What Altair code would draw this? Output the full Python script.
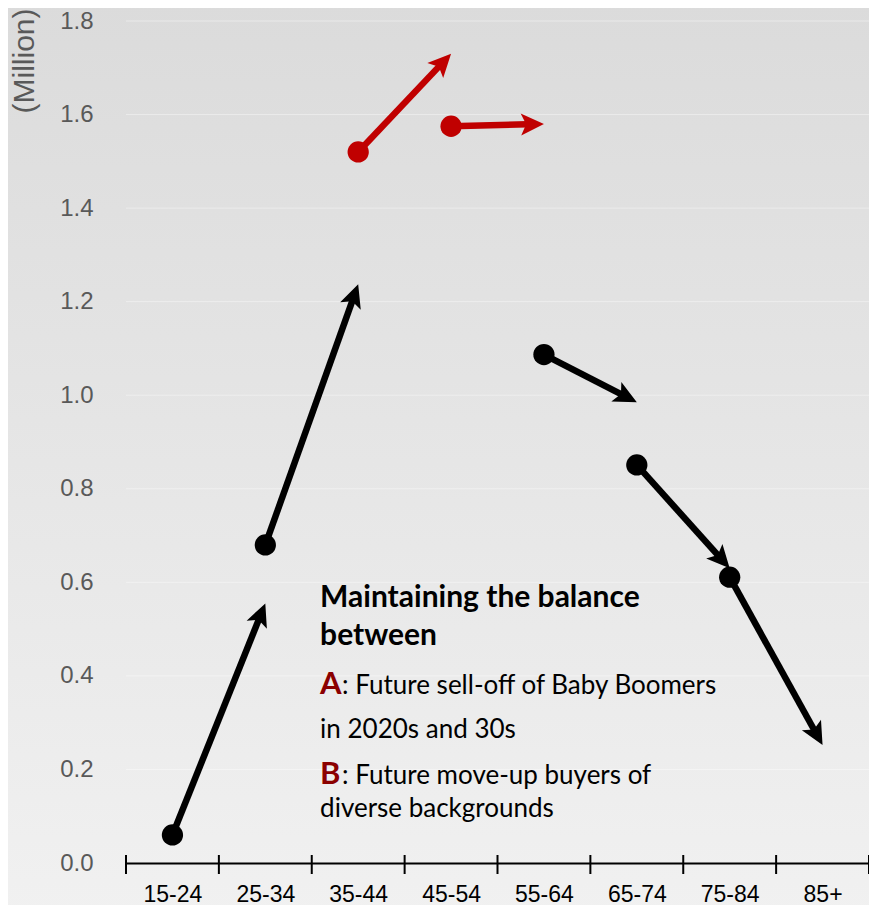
import json
import math
import altair as alt
import pandas as pd

# ---------------- data ----------------
categories = ['15-24', '25-34', '35-44', '45-54', '55-64', '65-74', '75-84', '85+']
start_values = [0.06, 0.68, 1.52, 1.575, 1.087, 0.851, 0.611]   # dot, per age group (Million)
end_values = [0.555, 1.237, 1.73, 1.58, 0.985, 0.63, 0.252]     # arrow tip at next age group
groups = ['other', 'other', 'move-up', 'move-up', 'other', 'other', 'other']
y_ticks = [0.0, 0.2, 0.4, 0.6, 0.8, 1.0, 1.2, 1.4, 1.6, 1.8]

bold_lines = ['Maintaining the balance', 'between']
bold_line_y = [0.547, 0.466]
letters = ['A', 'B']
letter_y = [0.361, 0.168]
rest_lines = [': Future sell-off of Baby Boomers', ': Future move-up buyers of']
plain_lines = ['in 2020s and 30s', 'diverse backgrounds']
plain_line_y = [0.267, 0.098]
note_x = 2.09

# ---------------- layout ----------------
W, H = 743, 842
YMAX = 1.8
NCAT = len(categories)
PXX = W / NCAT
PXY = H / YMAX
HEAD_SCALE = 11.5
HEAD_PATH = "M0,0 L0.95,2 L0,1.55 L-0.95,2 Z"
NOTCH = 1.45 * HEAD_SCALE

rows = []
for i, (v, t, g) in enumerate(zip(start_values, end_values, groups)):
    xs, xt = i + 0.5, i + 1.5
    dxp = (xt - xs) * PXX
    dyp = -(t - v) * PXY
    L = math.hypot(dxp, dyp)
    ux, uy = dxp / L, dyp / L
    ang = math.degrees(math.atan2(ux, -uy)) % 360
    rows.append(dict(cat=categories[i], xs=xs, v=v, xt=xt, t=t,
                     xe=xt - ux * NOTCH / PXX, ye=t + uy * NOTCH / PXY,
                     ang=ang, grp=g))
df = pd.DataFrame(rows)

xscale = alt.Scale(domain=[0, NCAT], nice=False, zero=False)
yscale = alt.Scale(domain=[0, YMAX], nice=False, zero=True)
cscale = alt.Scale(domain=['other', 'move-up'], range=['#000000', '#C00000'])

label_expr = json.dumps(categories) + "[floor(datum.value)]"
xaxis = alt.Axis(values=[i + 0.5 for i in range(NCAT)], labelExpr=label_expr, title=None,
                 ticks=False, grid=False, domain=True, domainColor='#000000', domainWidth=2,
                 labelFont='Liberation Sans, Arial, sans-serif',
                 labelFontSize=23, labelColor='#000000', labelPadding=20, labelFlush=False,
                 labelOverlap=False, zindex=1)
yaxis = alt.Axis(values=y_ticks, format='.1f', title='(Million)', titleAngle=270,
                 titleX=-102, titleY=-13, titleAlign='right', titleBaseline='middle',
                 titleFont='Liberation Sans, Arial, sans-serif', titleFontSize=30,
                 titleFontWeight='normal', titleColor='#595959',
                 labelFont='Liberation Sans, Arial, sans-serif', labelFontSize=24,
                 labelColor='#595959', labelPadding=33, ticks=False, domain=False,
                 grid=False, labelFlush=False, zindex=1)

bg = alt.Chart(pd.DataFrame({'k': [0]})).mark_rect(
    color=alt.LinearGradient(gradient='linear',
                             stops=[alt.GradientStop(color='#dbdbdb', offset=0),
                                    alt.GradientStop(color='#f1f1f1', offset=1)],
                             x1=0, x2=0, y1=0, y2=1)
).encode(x=alt.value(-130), x2=alt.value(W + 10), y=alt.value(-20), y2=alt.value(H + 60))

grid = alt.Chart(pd.DataFrame({'g': y_ticks[1:]})).mark_rule(
    color='#ffffff', opacity=0.4, strokeWidth=1
).encode(y=alt.Y('g:Q', scale=yscale, axis=yaxis))

xticks = alt.Chart(pd.DataFrame({'b': list(range(NCAT + 1))})).mark_rule(
    color='#000000', strokeWidth=2
).encode(x=alt.X('b:Q', scale=xscale, axis=xaxis), y=alt.value(H - 8), y2=alt.value(H + 11))

lines = alt.Chart(df).mark_rule(strokeWidth=6.5, strokeCap='butt').encode(
    x=alt.X('xs:Q', scale=xscale, axis=xaxis),
    y=alt.Y('v:Q', scale=yscale, axis=yaxis),
    x2='xe:Q', y2='ye:Q',
    color=alt.Color('grp:N', scale=cscale, legend=None))

heads = alt.Chart(df).mark_point(shape=HEAD_PATH, filled=True, size=(2 * HEAD_SCALE) ** 2,
                                 opacity=1, strokeWidth=0).encode(
    x=alt.X('xt:Q', scale=xscale, axis=xaxis),
    y=alt.Y('t:Q', scale=yscale, axis=yaxis),
    angle=alt.Angle('ang:Q', scale=None),
    color=alt.Color('grp:N', scale=cscale, legend=None))

dots = alt.Chart(df).mark_circle(size=452, opacity=1).encode(
    x=alt.X('xs:Q', scale=xscale, axis=xaxis),
    y=alt.Y('v:Q', scale=yscale, axis=yaxis),
    color=alt.Color('grp:N', scale=cscale, legend=None))

FONT = 'Lato, Open Sans, sans-serif'
t_bold = alt.Chart(pd.DataFrame({'txt': bold_lines, 'y': bold_line_y, 'x': [note_x] * 2})).mark_text(
    align='left', baseline='alphabetic', font=FONT, fontSize=30, fontWeight='bold', color='#000000'
).encode(x=alt.X('x:Q', scale=xscale, axis=xaxis), y=alt.Y('y:Q', scale=yscale, axis=yaxis), text='txt:N')

t_letter = alt.Chart(pd.DataFrame({'txt': letters, 'y': letter_y, 'x': [note_x] * 2})).mark_text(
    align='left', baseline='alphabetic', font=FONT, fontSize=31, fontWeight='bold', color='#8B0000'
).encode(x=alt.X('x:Q', scale=xscale, axis=xaxis), y=alt.Y('y:Q', scale=yscale, axis=yaxis), text='txt:N')

t_rest = alt.Chart(pd.DataFrame({'txt': rest_lines, 'y': letter_y, 'x': [note_x] * 2})).mark_text(
    align='left', baseline='alphabetic', font=FONT, fontSize=26, color='#000000', dx=22
).encode(x=alt.X('x:Q', scale=xscale, axis=xaxis), y=alt.Y('y:Q', scale=yscale, axis=yaxis), text='txt:N')

t_plain = alt.Chart(pd.DataFrame({'txt': plain_lines, 'y': plain_line_y, 'x': [note_x] * 2})).mark_text(
    align='left', baseline='alphabetic', font=FONT, fontSize=26, color='#000000'
).encode(x=alt.X('x:Q', scale=xscale, axis=xaxis), y=alt.Y('y:Q', scale=yscale, axis=yaxis), text='txt:N')

chart = alt.layer(bg, grid, xticks, lines, heads, dots, t_bold, t_letter, t_rest, t_plain).properties(
    width=W, height=H,
    autosize=alt.AutoSizeParams(type='none'),
    padding={'left': 118, 'top': 13, 'right': 0, 'bottom': 42},
    background='#f1f1f1'
).configure_view(stroke=None)

chart.save("out.html", embed_options={"renderer": "svg", "actions": False})
